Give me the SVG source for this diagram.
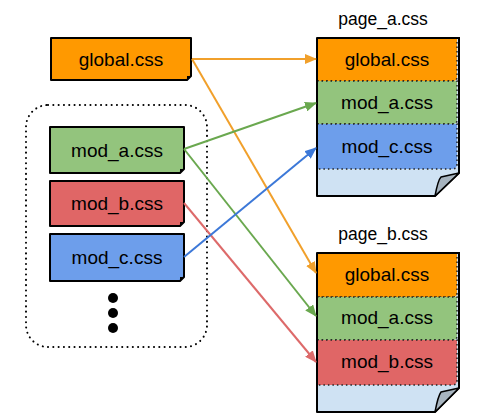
<svg xmlns="http://www.w3.org/2000/svg" width="487" height="419" viewBox="0 0 487 419">
<defs>
<style>
.lbl{font-family:"Liberation Sans",Arial,sans-serif;font-size:19px;fill:#000;text-anchor:middle}
.ttl{font-family:"Liberation Sans",Arial,sans-serif;font-size:17.5px;fill:#000;text-anchor:middle}
.box{stroke:#000;stroke-width:2;stroke-linejoin:round}
.stripe{stroke:#222;stroke-width:1.5;stroke-dasharray:1.5 3}
.page{fill:#cfe2f3;stroke:#000;stroke-width:2;stroke-linejoin:round}
.fold{fill:#a7b4bf;stroke:#000;stroke-width:1.5;stroke-linejoin:round}
.conn{fill:none;stroke-width:2}
</style>
<marker id="aO" markerWidth="12" markerHeight="10" refX="11" refY="5" orient="auto" markerUnits="userSpaceOnUse"><path d="M0,0 L12,5 L0,10 Z" fill="#f1a02b"/></marker>
<marker id="aG" markerWidth="12" markerHeight="10" refX="11" refY="5" orient="auto" markerUnits="userSpaceOnUse"><path d="M0,0 L12,5 L0,10 Z" fill="#6aa84f"/></marker>
<marker id="aR" markerWidth="12" markerHeight="10" refX="11" refY="5" orient="auto" markerUnits="userSpaceOnUse"><path d="M0,0 L12,5 L0,10 Z" fill="#dd6a6a"/></marker>
<marker id="aB" markerWidth="12" markerHeight="10" refX="11" refY="5" orient="auto" markerUnits="userSpaceOnUse"><path d="M0,0 L12,5 L0,10 Z" fill="#3c78d8"/></marker>
</defs>
<rect width="487" height="419" fill="#fff"/>

<g id="module-group">
<rect x="26" y="105" width="181" height="242" rx="22" fill="none" stroke="#000" stroke-width="2" stroke-dasharray="0.1 5.2" stroke-linecap="round"/>
<circle cx="113" cy="298" r="5"/>
<circle cx="113" cy="313" r="5"/>
<circle cx="113" cy="328" r="5"/>
</g>

<g id="global">
<path class="box" d="M51,38 H191 V76 L187,80 H51 Z" fill="#ff9900"/>
<path d="M187,80 L191,76 L187,76 Z" fill="#000"/>
<text class="lbl" x="121" y="65.5">global.css</text>
</g>
<g id="mod_a">
<path class="box" d="M50,127 H184 V169 L180,173 H50 Z" fill="#93c47d"/>
<path d="M180,173 L184,169 L180,169 Z" fill="#000"/>
<text class="lbl" x="117" y="156.5">mod_a.css</text>
</g>
<g id="mod_b">
<path class="box" d="M50,181 H184 V222 L180,226 H50 Z" fill="#e06666"/>
<path d="M180,226 L184,222 L180,222 Z" fill="#000"/>
<text class="lbl" x="117" y="210">mod_b.css</text>
</g>
<g id="mod_c">
<path class="box" d="M50,234 H184 V277 L180,281 H50 Z" fill="#6d9eeb"/>
<path d="M180,281 L184,277 L180,277 Z" fill="#000"/>
<text class="lbl" x="117" y="264">mod_c.css</text>
</g>

<g id="page_a">
<text class="ttl" x="383" y="25">page_a.css</text>
<path class="page" d="M317,38 H459 V173 L435,196 H317 Z"/>
<path class="fold" d="M435,196 Q438,180 441,177 L459,173 Z"/>
<path class="stripe" d="M317,38 H457 V77 Q457,81 453,81 H317 Z" fill="#ff9900"/>
<path class="stripe" d="M317,81 H457 V120 Q457,124 453,124 H317 Z" fill="#93c47d"/>
<path class="stripe" d="M317,124 H457 V164 Q457,169 452,169 H317 Z" fill="#6d9eeb"/>
<path d="M317,38 H459 V173 M317,38 V196" fill="none" stroke="#000" stroke-width="2"/>
<text class="lbl" x="387" y="66">global.css</text>
<text class="lbl" x="387" y="109">mod_a.css</text>
<text class="lbl" x="387" y="153">mod_c.css</text>
</g>

<g id="page_b">
<text class="ttl" x="383" y="240">page_b.css</text>
<path class="page" d="M317,253 H459 V388 L435,412 H317 Z"/>
<path class="fold" d="M435,412 Q438,396 441,392 L459,388 Z"/>
<path class="stripe" d="M317,253 H457 V293 Q457,297 453,297 H317 Z" fill="#ff9900"/>
<path class="stripe" d="M317,297 H457 V336 Q457,340 453,340 H317 Z" fill="#93c47d"/>
<path class="stripe" d="M317,340 H457 V380 Q457,385 452,385 H317 Z" fill="#e06666"/>
<path d="M317,253 H459 V388 M317,253 V412" fill="none" stroke="#000" stroke-width="2"/>
<text class="lbl" x="387" y="281">global.css</text>
<text class="lbl" x="387" y="324">mod_a.css</text>
<text class="lbl" x="387" y="368">mod_b.css</text>
</g>

<g id="connectors">
<line class="conn" x1="192" y1="59" x2="316" y2="59" stroke="#f1a02b" marker-end="url(#aO)"/>
<line class="conn" x1="192" y1="59" x2="316" y2="273" stroke="#f1a02b" marker-end="url(#aO)"/>
<line class="conn" x1="184" y1="149" x2="316" y2="103" stroke="#6aa84f" marker-end="url(#aG)"/>
<line class="conn" x1="184" y1="149" x2="316" y2="316" stroke="#6aa84f" marker-end="url(#aG)"/>
<line class="conn" x1="184" y1="203" x2="316" y2="362" stroke="#dd6a6a" marker-end="url(#aR)"/>
<line class="conn" x1="184" y1="257" x2="316" y2="148" stroke="#3c78d8" marker-end="url(#aB)"/>
</g>
</svg>
